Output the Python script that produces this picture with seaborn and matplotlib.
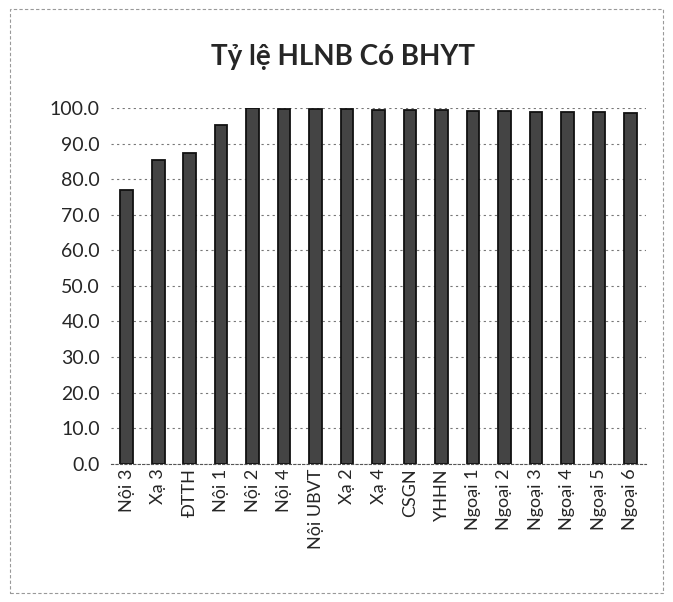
import matplotlib
matplotlib.use("Agg")
import matplotlib.pyplot as plt
import seaborn as sns
import pandas as pd

# Data
khoa = ["Nội 3", "Xạ 3", "ĐTTH", "Nội 1", "Nội 2", "Nội 4", "Nội UBVT", "Xạ 2",
        "Xạ 4", "CSGN", "YHHN", "Ngoại 1", "Ngoại 2", "Ngoại 3", "Ngoại 4",
        "Ngoại 5", "Ngoại 6"]
ty_le = [77.0, 85.5, 87.3, 95.3, 100.0, 99.9, 99.8, 99.7, 99.6, 99.5, 99.4,
         99.3, 99.2, 99.1, 99.0, 98.9, 98.8]
y_ticks = [0, 10, 20, 30, 40, 50, 60, 70, 80, 90, 100]

df = pd.DataFrame({"Khoa": khoa, "TyLe": ty_le})

sns.set_style("white")
plt.rcParams["font.family"] = ["Lato", "DejaVu Sans"]

fig = plt.figure(figsize=(6.73, 6.02), dpi=100)
ax = fig.add_axes([0.165, 0.23, 0.795, 0.59])

sns.barplot(data=df, x="Khoa", y="TyLe", color="#444444", edgecolor="#111111",
            linewidth=1.3, width=0.4, ax=ax)

ax.set_ylim(0, 100)
ax.set_yticks(y_ticks)
ax.set_yticklabels([f"{v:.1f}" for v in y_ticks], fontsize=14)
ax.tick_params(axis="x", labelrotation=90, labelsize=13, length=0)
ax.tick_params(axis="y", length=0, pad=8)
ax.yaxis.grid(True, linestyle=(0, (2, 3)), color="#777777", linewidth=0.8)
ax.set_axisbelow(True)
ax.set_xlabel("")
ax.set_ylabel("")
for s in ["top", "right", "left"]:
    ax.spines[s].set_visible(False)
ax.spines["bottom"].set_color("#555555")
ax.spines["bottom"].set_linestyle((0, (2, 2)))

fig.text(0.51, 0.905, "Tỷ lệ HLNB Có BHYT", ha="center", va="center",
         fontsize=20, fontweight="bold")

# outer chart frame
fig.patches.append(plt.Rectangle((0.015, 0.015), 0.97, 0.97, transform=fig.transFigure,
                                 fill=False, edgecolor="#999999", linewidth=0.8,
                                 linestyle=(0, (3, 2))))

plt.savefig("out.png", dpi=100)
plt.close()
